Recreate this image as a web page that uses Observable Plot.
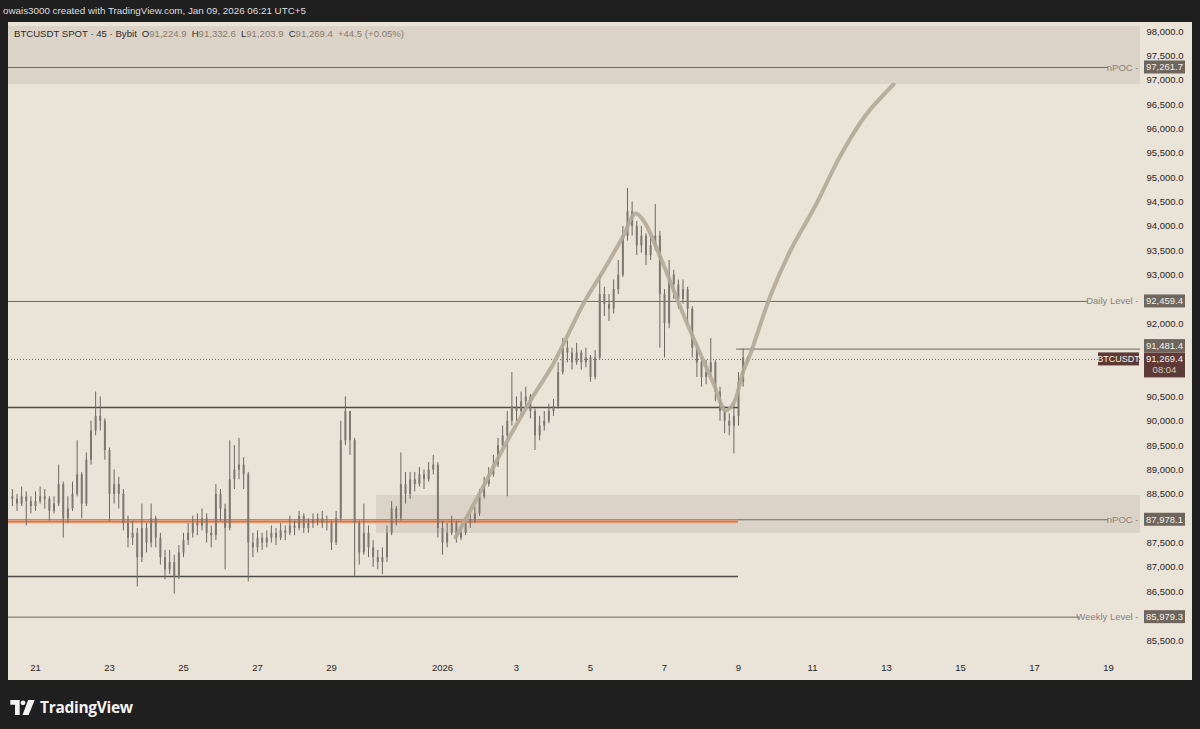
<!DOCTYPE html>
<html><head><meta charset="utf-8">
<script src="https://cdn.jsdelivr.net/npm/d3@7"></script>
<script src="https://cdn.jsdelivr.net/npm/@observablehq/plot@0.6"></script>
<style>
html,body{margin:0;padding:0;background:#1f1f1f;}
#wrap{position:relative;width:1200px;height:729px;overflow:hidden;background:#1f1f1f;font-family:"Liberation Sans",Arial,sans-serif;}
#credit{position:absolute;left:3px;top:5px;color:#dedede;font-size:9.8px;}
#pane{position:absolute;left:8px;top:22px;width:1184px;height:658px;background:#eae3d8;}
#legend{position:absolute;left:14px;top:28px;font-size:9.6px;color:#2b2b2b;white-space:pre;}
#legend .v{color:#8a7b68;}
#legend .s{display:inline-block;width:5px;}
#logo{position:absolute;left:10px;top:696px;display:flex;align-items:center;gap:5px;color:#f2f2f2;font-weight:bold;font-size:15.5px;font-family:"Open Sans",sans-serif;letter-spacing:-0.3px;}
</style></head>
<body>
<div id="wrap">
  <div id="credit">owais3000 created with TradingView.com, Jan 09, 2026 06:21 UTC+5</div>
  <div id="pane"></div>
  <div id="legend">BTCUSDT SPOT · 45 · Bybit<span class="s"></span>O<span class="v">91,224.9</span><span class="s"></span>H<span class="v">91,332.6</span><span class="s"></span>L<span class="v">91,203.9</span><span class="s"></span>C<span class="v">91,269.4</span><span class="s"></span><span class="v">+44.5 (+0.05%)</span></div>
  <div id="logo"><svg width="25" height="15" viewBox="0 0 26 16"><path d="M0 0H10V16H5V5H0Z" fill="#f2f2f2"/><circle cx="13.5" cy="3" r="2.6" fill="#f2f2f2"/><path d="M19 0H26L19.5 16H13Z" fill="#f2f2f2"/></svg><span>TradingView</span></div>
</div>
<script>
// ---------- data ----------
const firstBar = "2025-12-20T09:00Z";   // 3-hour bars
const barHours = 3;
const firstOpen = 88450;
const closes = [88400,88300,88450,88350,88250,88350,88450,88400,88150,88300,
88700,88000,88200,88500,88900,88300,89200,89800,90100,90000,
89400,88500,88700,88500,87900,87600,87700,87200,87800,87500,
88000,87600,87200,86950,87100,86800,87300,87550,87700,87900,
87850,88000,87700,87650,88500,88200,87800,88800,89000,89100,
88900,87500,87400,87600,87500,87600,87700,87600,87750,87700,
87850,87800,88050,87800,87900,87950,88000,87900,87900,87500,
88000,89600,90200,89600,87900,87300,87700,87400,87200,87100,
87200,87700,88200,88000,88700,88500,88800,88700,88900,88800,
89000,89100,87800,87500,87700,87900,87600,87700,87900,87950,
88100,88450,88700,88900,89100,89500,89700,90000,90300,90200,
90400,90500,90200,89700,89900,90000,90200,90300,91000,91500,
91400,91200,91400,91200,91300,90900,91300,92600,92400,92300,
92700,93000,93800,94300,94000,93600,93800,93400,93600,93800,
92600,92000,93000,92800,92500,92700,92300,91500,91200,90900,
91000,91200,90600,90200,90000,89900,90100,90800,91300,91269.4];
const highs = [88600,88500,88650,88550,88450,88550,88650,88600,88450,88450,
89100,88750,88450,88750,89600,88950,89350,90000,90600,90500,
90050,89450,89000,88850,88600,88050,87950,87800,88300,87900,
88300,88050,87700,87350,87350,87250,87450,87700,87900,88050,
88100,88200,88100,87850,88700,88600,88300,89600,89500,89650,
89250,88950,87700,87750,87700,87750,87850,87800,87900,87850,
88050,87950,88150,88100,88000,88100,88100,88150,88050,87950,
88150,90000,90500,90100,89650,87950,88300,87850,87550,87350,
87400,87850,88350,88250,89350,88950,88950,88950,89050,89000,
89150,89300,89150,87950,87900,88050,87950,87850,88000,88100,
88250,88600,88850,89050,89300,89650,89900,90200,91000,90500,
90600,90700,90550,90250,90100,90200,90350,90450,91200,91700,
91650,91500,91600,91450,91500,91350,91450,93000,92750,92600,
92900,93300,94000,94780,94500,94100,94000,93850,93800,94450,
93900,92700,93300,93100,92900,92900,92750,92350,91600,91300,
91250,91700,91250,90700,90300,90150,90350,91000,91481.4,91332.6];
const lows = [88250,88150,88250,87850,88100,88150,88300,88200,87950,88100,
88250,87600,87900,88150,88450,88000,88250,89100,89700,89800,
89200,87950,88300,88200,87750,87400,87450,86600,87100,87300,
87400,87400,87050,86750,86850,86450,86750,87200,87450,87600,
87650,87750,87500,87400,87550,87950,86950,87750,88600,88800,
88600,86700,87200,87300,87350,87400,87500,87450,87550,87550,
87650,87650,87750,87700,87700,87800,87850,87800,87750,87350,
87450,87950,89500,89300,86800,87050,87250,87200,87000,86950,
86850,87100,87650,87850,87950,88300,88400,88550,88650,88600,
88750,88900,87600,87250,87400,87650,87500,87550,87650,87800,
87900,88050,88400,88650,88850,89050,89400,88450,89900,90000,
90100,90300,90050,89400,89600,89800,89950,90100,90250,90950,
91200,91050,91150,91050,91100,90800,90850,91250,92150,92050,
92200,92600,92950,93700,93800,93400,93450,93200,93300,93500,
91500,91300,91900,92500,92300,92400,92000,91300,90900,90700,
90750,90900,90400,90000,89750,89700,89330,89900,90700,91203.9];

// projected path (drawn curve)
const pathDates = ["2026-01-01T08:25Z","2026-01-01T22:42Z","2026-01-02T18:10Z","2026-01-03T09:04Z","2026-01-04T00:00Z","2026-01-04T19:28Z","2026-01-05T08:25Z","2026-01-05T20:46Z","2026-01-06T05:11Z","2026-01-06T10:22Z","2026-01-06T21:24Z","2026-01-07T10:22Z","2026-01-07T21:24Z","2026-01-08T07:47Z","2026-01-08T15:35Z","2026-01-08T20:46Z","2026-01-09T03:14Z","2026-01-09T07:47Z","2026-01-09T20:46Z","2026-01-10T09:43Z","2026-01-11T01:57Z","2026-01-11T18:10Z","2026-01-12T10:22Z","2026-01-13T04:32Z"];
const pathPrices = [87614,88435,89605,90426,91186,92417,93095,93772,94264,94121,93361,92335,91514,90775,90221,90365,91042,91391,92582,93505,94429,95455,96276,96912];

// levels
const levelNames  = ["nPOC","Daily Level","nPOC","Weekly Level"];
const levelValues = [97261.7, 92459.4, 87978.1, 85979.3];
const levelLineEnd = ["2026-01-19T00:00Z","2026-01-18T11:00Z","2026-01-19T00:00Z","2026-01-18T05:15Z"];
const rangeLines = [90283, 86814];             // dark range lines
const orangeLine = 87940;                      // orange line
const drawnUntil = "2026-01-09T00:00Z";
const rayLevel = 91481.4, rayStart = "2026-01-08T22:50Z";
const lastPrice = 91269.4, countdown = "08:04", symbol = "BTCUSDT";
const zoneTop = {y1: 96912, y2: 98103, start: "2025-12-20T06:29Z"};
const zoneLow = {y1: 87697, y2: 88477, start: "2025-12-30T05:10Z"};

const xDomain = ["2025-12-20T06:29Z", "2026-01-19T20:45Z"];
const yDomain = [85151, 98185];
const xTicks = ["2025-12-21","2025-12-23","2025-12-25","2025-12-27","2025-12-29","2026-01-01","2026-01-03","2026-01-05","2026-01-07","2026-01-09","2026-01-11","2026-01-13","2026-01-15","2026-01-17","2026-01-19"];
const yTicks = [98000,97500,97000,96500,96000,95500,95000,94500,94000,93500,93000,92000,90500,90000,89500,89000,88500,87500,87000,86500,85500];

// ---------- build ----------
const D = s => new Date(s);
const t0 = D(firstBar).getTime();
const candles = closes.map((c, i) => ({
  date: new Date(t0 + i * barHours * 3600000),
  open: i ? closes[i - 1] : firstOpen, high: highs[i], low: lows[i], close: c
}));
const pathData = pathDates.map((d, i) => ({date: D(d), price: pathPrices[i]}));
const levels = levelNames.map((n, i) => ({name: n + " -", value: levelValues[i], end: D(levelLineEnd[i])}));
const x0 = D(xDomain[0]), x1 = D(xDomain[1]);

const zoneFill = "#dbd3c8", lineCol = "#6f685f", labCol = "#8a8378";
const fmt = d3.format(",.1f");

const chart = Plot.plot({
  width: 1184, height: 658,
  marginLeft: 0, marginRight: 52, marginTop: 0, marginBottom: 23,
  style: {background: "transparent", fontFamily: "'Liberation Sans', Arial, sans-serif", fontSize: "9.5px", color: "#262626"},
  x: {type: "utc", domain: [x0, x1]},
  y: {domain: yDomain},
  marks: [
    Plot.rect([zoneTop], {x1: d => D(d.start), x2: () => x1, y1: "y1", y2: "y2", fill: zoneFill}),
    Plot.rect([zoneLow], {x1: d => D(d.start), x2: () => x1, y1: "y1", y2: "y2", fill: zoneFill}),
    Plot.ruleY(levels, {y: "value", x1: () => x0, x2: "end", stroke: lineCol, strokeWidth: 1}),
    Plot.ruleY([lastPrice], {stroke: lineCol, strokeWidth: 1, strokeDasharray: "1,2"}),
    Plot.ruleY(rangeLines, {x1: () => x0, x2: () => D(drawnUntil), stroke: "#4e4a44", strokeWidth: 1.6}),
    Plot.ruleY([orangeLine], {x1: () => x0, x2: () => D(drawnUntil), stroke: "#f0a27f", strokeWidth: 4, strokeOpacity: 0.55}),
    Plot.ruleY([orangeLine], {x1: () => x0, x2: () => D(drawnUntil), stroke: "#e6733f", strokeWidth: 1.6}),
    Plot.ruleY([rayLevel], {x1: () => D(rayStart), x2: () => x1, stroke: lineCol, strokeWidth: 1}),
    Plot.ruleX(candles, {x: "date", y1: "low", y2: "high", stroke: "#6c675f", strokeWidth: 1}),
    Plot.ruleX(candles, {x: "date", y1: "open", y2: "close", stroke: "#7d786f", strokeWidth: 2}),
    Plot.line(pathData, {x: "date", y: "price", curve: "catmull-rom", stroke: "#b3a998", strokeWidth: 4, strokeOpacity: 0.9, strokeLinecap: "round"}),
    Plot.text(levels, {y: "value", frameAnchor: "right", text: "name", textAnchor: "end", dx: -2, fill: labCol, fontSize: 9.5}),
    Plot.axisY({anchor: "right", ticks: yTicks, tickSize: 0, tickPadding: 6, tickFormat: fmt, fill: "#262626", fontSize: 9.5}),
    Plot.axisX({ticks: xTicks.map(D), tickSize: 0, tickPadding: 7, fill: "#262626", fontSize: 9.5,
      tickFormat: d => (d.getUTCMonth() === 0 && d.getUTCDate() === 1) ? String(d.getUTCFullYear()) : String(d.getUTCDate())})
  ]
});

// price-scale labels (boxes) through the y scale
const ys = chart.scale("y");
const yScale = d3.scaleLinear(ys.domain, ys.range);
const svg = d3.select(chart);
const g = svg.append("g").attr("font-size", 9.5).attr("font-family", "'Liberation Sans', Arial, sans-serif");
function box(value, text, fill, shift = 0) {
  const yy = yScale(value) + shift;
  g.append("rect").attr("x", 1136).attr("y", yy - 6.5).attr("width", 41).attr("height", 13).attr("fill", fill);
  g.append("text").attr("x", 1156.5).attr("y", yy).attr("dy", "0.35em").attr("text-anchor", "middle").attr("fill", "#f4f0ea").text(text);
}
levelValues.forEach(v => box(v, fmt(v), "#6e655c"));
box(rayLevel, fmt(rayLevel), "#6e655c", -3);
{
  const yy = yScale(lastPrice);
  g.append("rect").attr("x", 1136).attr("y", yy - 6.5).attr("width", 41).attr("height", 25).attr("fill", "#5d3a36");
  g.append("text").attr("x", 1156.5).attr("y", yy).attr("dy", "0.35em").attr("text-anchor", "middle").attr("fill", "#f4f0ea").text(fmt(lastPrice));
  g.append("text").attr("x", 1156.5).attr("y", yy + 11).attr("dy", "0.35em").attr("text-anchor", "middle").attr("fill", "#d9c6c2").text(countdown);
  g.append("rect").attr("x", 1090).attr("y", yy - 6.5).attr("width", 41).attr("height", 13).attr("fill", "#5d3a36");
  g.append("text").attr("x", 1110.5).attr("y", yy).attr("dy", "0.35em").attr("text-anchor", "middle").attr("fill", "#f4f0ea").attr("font-size", 9).text(symbol);
}
document.getElementById("pane").appendChild(chart);
</script>
</body></html>
